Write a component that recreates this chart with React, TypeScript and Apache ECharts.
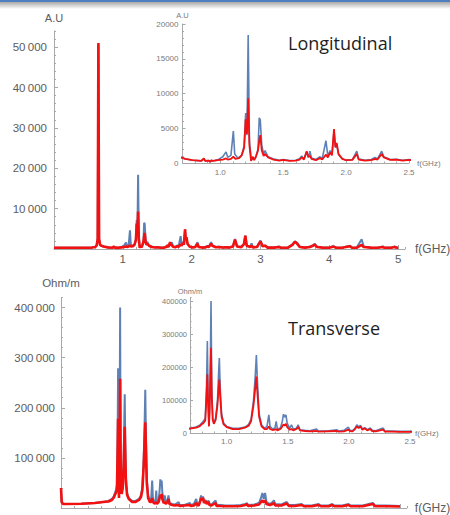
import React, { useEffect, useRef } from "react";
import * as echarts from "echarts";

// ---------- data: [frequency GHz, value] ----------
const lonBlue: [number, number][] = [
  [0, 300], [0.3, 300], [0.55, 350], [0.6, 500], [0.62, 900], [0.635, 2500], [0.645, 50500], [0.655, 2500],
  [0.67, 1000], [0.69, 800], [0.72, 600], [0.78, 400], [0.85, 300], [0.87, 650], [0.88, 300], [0.91, 350],
  [0.92, 150], [0.93, 400], [0.94, 300], [0.98, 450], [1.02, 900], [1.046, 1600], [1.06, 800], [1.085, 1100],
  [1.104, 4600], [1.115, 1300], [1.14, 700], [1.17, 1100], [1.19, 2500], [1.202, 7200], [1.212, 4000],
  [1.222, 18400], [1.232, 3000], [1.245, 800], [1.26, 500], [1.28, 700], [1.30, 2000], [1.31, 6500],
  [1.318, 6200], [1.33, 2500], [1.345, 1300], [1.356, 1800], [1.38, 900], [1.42, 600], [1.47, 400],
  [1.5, 500], [1.55, 350], [1.6, 400], [1.63, 600], [1.647, 1000], [1.665, 600], [1.687, 1600], [1.70, 800],
  [1.713, 1700], [1.725, 700], [1.76, 500], [1.793, 900], [1.81, 600], [1.84, 3200], [1.855, 1000],
  [1.873, 1800], [1.888, 1200], [1.904, 4600], [1.915, 2200], [1.925, 2700], [1.94, 1200], [1.97, 600],
  [2.0, 400], [2.05, 500], [2.085, 1700], [2.10, 600], [2.15, 400], [2.2, 500], [2.23, 800], [2.25, 600],
  [2.283, 1700], [2.30, 900], [2.35, 500], [2.4, 550], [2.45, 400], [2.5, 500], [2.55, 400], [2.6, 700],
  [2.63, 2500], [2.66, 700], [2.72, 500], [2.76, 1200], [2.78, 3300], [2.80, 900], [2.85, 600], [2.87, 1400],
  [2.89, 500], [2.95, 600], [3.0, 2100], [3.03, 800], [3.07, 900], [3.1, 400], [3.2, 400], [3.27, 600],
  [3.3, 300], [3.4, 400], [3.47, 1200], [3.5, 1900], [3.53, 1500], [3.57, 600], [3.65, 400], [3.72, 600],
  [3.76, 900], [3.79, 1300], [3.82, 600], [3.9, 400], [4.0, 350], [4.06, 700], [4.1, 300], [4.2, 400],
  [4.3, 800], [4.33, 300], [4.4, 400], [4.47, 2400], [4.5, 600], [4.6, 400], [4.7, 300], [4.78, 600],
  [4.8, 300], [4.9, 350], [4.95, 600], [4.98, 300], [5.0, 350],
];

const lonRed: [number, number][] = [
  [0, 300], [0.3, 300], [0.55, 350], [0.6, 500], [0.62, 900], [0.635, 2500], [0.645, 51000], [0.655, 2500],
  [0.67, 1000], [0.69, 800], [0.72, 600], [0.78, 400], [0.85, 300], [0.87, 650], [0.88, 300], [0.91, 350],
  [0.92, 150], [0.93, 400], [0.94, 300], [0.98, 400], [1.02, 500], [1.046, 650], [1.06, 500], [1.085, 600],
  [1.104, 900], [1.12, 600], [1.15, 700], [1.17, 1100], [1.19, 2200], [1.202, 6300], [1.212, 4200],
  [1.222, 9300], [1.232, 2500], [1.245, 300], [1.26, 900], [1.27, 400], [1.285, 1000], [1.30, 1800],
  [1.31, 3200], [1.318, 4000], [1.33, 1800], [1.345, 1000], [1.356, 1300], [1.38, 800], [1.42, 500],
  [1.47, 350], [1.5, 450], [1.55, 300], [1.6, 350], [1.63, 500], [1.647, 800], [1.665, 500], [1.687, 1700],
  [1.70, 900], [1.713, 1000], [1.725, 600], [1.76, 400], [1.793, 700], [1.81, 500], [1.84, 1200],
  [1.855, 800], [1.873, 1500], [1.888, 1100], [1.904, 4900], [1.915, 2300], [1.925, 2900], [1.94, 1300],
  [1.97, 600], [2.0, 400], [2.05, 450], [2.085, 1300], [2.10, 500], [2.15, 350], [2.2, 400], [2.23, 600],
  [2.25, 500], [2.283, 1300], [2.30, 800], [2.35, 450], [2.4, 500], [2.45, 350], [2.5, 450], [2.55, 350],
  [2.6, 600], [2.63, 2300], [2.66, 600], [2.72, 450], [2.76, 1200], [2.78, 3300], [2.80, 800], [2.85, 500],
  [2.87, 800], [2.89, 400], [2.95, 500], [3.0, 1900], [3.03, 700], [3.07, 800], [3.1, 350], [3.2, 350],
  [3.27, 500], [3.3, 300], [3.4, 350], [3.47, 1100], [3.5, 1800], [3.53, 1400], [3.57, 500], [3.65, 350],
  [3.72, 500], [3.76, 800], [3.79, 1100], [3.82, 500], [3.9, 350], [4.0, 300], [4.06, 600], [4.1, 300],
  [4.2, 350], [4.3, 700], [4.33, 300], [4.4, 350], [4.47, 1000], [4.5, 500], [4.6, 350], [4.7, 300],
  [4.78, 500], [4.8, 300], [4.9, 300], [4.95, 500], [4.98, 300], [5.0, 300],
];

const traBlue: [number, number][] = [
  [0, 40000], [0.01, 12000], [0.03, 8000], [0.3, 8500], [0.5, 10000], [0.62, 12000], [0.7, 14000],
  [0.75, 18000], [0.78, 24000], [0.80, 32000], [0.81, 36000], [0.825, 45000], [0.835, 140000],
  [0.842, 279000], [0.848, 110000], [0.855, 22000], [0.86, 70000], [0.866, 200000], [0.872, 400000],
  [0.878, 140000], [0.886, 45000], [0.895, 30000], [0.91, 45000], [0.925, 100000], [0.935, 190000],
  [0.94, 227000], [0.947, 140000], [0.958, 60000], [0.975, 30000], [1.0, 20000], [1.05, 14000],
  [1.1, 14000], [1.15, 18000], [1.18, 26000], [1.2, 42000], [1.22, 100000], [1.235, 180000],
  [1.243, 236000], [1.25, 170000], [1.265, 60000], [1.285, 25000], [1.31, 14000], [1.33, 20000],
  [1.345, 55000], [1.355, 20000], [1.375, 12000], [1.395, 15000], [1.405, 35000], [1.415, 12000],
  [1.44, 15000], [1.455, 35000], [1.465, 57000], [1.475, 48000], [1.485, 55000], [1.495, 30000],
  [1.515, 14000], [1.53, 25000], [1.545, 12000], [1.57, 14000], [1.585, 25000], [1.6, 10000],
  [1.64, 8000], [1.68, 7000], [1.735, 12000], [1.75, 6000], [1.82, 6000], [1.9, 10000], [1.915, 6000],
  [1.96, 8000], [1.995, 18000], [2.01, 8000], [2.03, 7000], [2.05, 14000], [2.065, 25000], [2.08, 18000],
  [2.095, 23000], [2.11, 12000], [2.13, 16000], [2.15, 10000], [2.175, 15000], [2.19, 8000], [2.22, 7000],
  [2.28, 15000], [2.295, 6000], [2.35, 6000], [2.42, 5000], [2.5, 5000], [2.55, 5000], [2.65, 6000],
  [2.72, 8000], [2.74, 10000], [2.76, 6000], [2.85, 7000], [2.92, 10000], [2.95, 20000], [2.97, 30000],
  [2.99, 18000], [3.01, 30000], [3.03, 12000], [3.08, 8000], [3.12, 12000], [3.14, 15000], [3.16, 8000],
  [3.25, 7000], [3.33, 12000], [3.36, 6000], [3.45, 6000], [3.55, 8000], [3.58, 5000], [3.7, 5000],
  [3.8, 8000], [3.83, 5000], [3.95, 5000], [4.0, 8000], [4.03, 5000], [4.15, 5000], [4.24, 8000],
  [4.27, 5000], [4.45, 5000], [4.6, 10000], [4.63, 5000], [4.8, 5000], [5.0, 4000],
];

const traRed: [number, number][] = [
  [0, 40000], [0.01, 12000], [0.03, 8000], [0.3, 8500], [0.5, 10000], [0.62, 12000], [0.7, 13000],
  [0.75, 16000], [0.78, 21000], [0.80, 28000], [0.81, 30000], [0.825, 38000], [0.835, 110000],
  [0.842, 178000], [0.848, 90000], [0.855, 20000], [0.86, 60000], [0.866, 160000], [0.872, 258000],
  [0.878, 110000], [0.886, 40000], [0.895, 28000], [0.91, 40000], [0.925, 85000], [0.935, 140000],
  [0.94, 162000], [0.947, 110000], [0.958, 50000], [0.975, 26000], [1.0, 18000], [1.05, 12000],
  [1.1, 12000], [1.15, 16000], [1.18, 22000], [1.2, 36000], [1.22, 85000], [1.235, 140000],
  [1.243, 171000], [1.25, 130000], [1.265, 50000], [1.285, 20000], [1.31, 12000], [1.33, 12000],
  [1.345, 20000], [1.355, 12000], [1.375, 9000], [1.395, 10000], [1.405, 12000], [1.415, 8000],
  [1.44, 12000], [1.455, 20000], [1.465, 26000], [1.475, 22000], [1.485, 28000], [1.495, 18000],
  [1.515, 10000], [1.53, 12000], [1.545, 8000], [1.57, 12000], [1.585, 18000], [1.6, 8000],
  [1.64, 6000], [1.68, 5000], [1.735, 6000], [1.75, 4000], [1.82, 5000], [1.9, 6000], [1.915, 4000],
  [1.96, 5000], [1.995, 10000], [2.01, 6000], [2.03, 5000], [2.05, 12000], [2.065, 20000], [2.08, 15000],
  [2.095, 20000], [2.11, 10000], [2.13, 14000], [2.15, 8000], [2.175, 12000], [2.19, 6000], [2.22, 5000],
  [2.28, 10000], [2.295, 4000], [2.35, 4000], [2.42, 3500], [2.5, 3500], [2.55, 3500], [2.65, 4000],
  [2.72, 6000], [2.74, 8000], [2.76, 4000], [2.85, 5000], [2.92, 7000], [2.95, 12000], [2.97, 15000],
  [2.99, 11000], [3.01, 15000], [3.03, 8000], [3.08, 6000], [3.12, 8000], [3.14, 10000], [3.16, 5000],
  [3.25, 5000], [3.33, 9000], [3.36, 4000], [3.45, 4000], [3.55, 6000], [3.58, 3500], [3.7, 3500],
  [3.8, 6000], [3.83, 3500], [3.95, 3500], [4.0, 6000], [4.03, 3500], [4.15, 3500], [4.24, 6000],
  [4.27, 3500], [4.45, 3500], [4.6, 8000], [4.63, 3500], [4.8, 3500], [5.0, 3000],
];

// ---------- ticks ----------
const mainXTicks = [1, 2, 3, 4, 5];
const insetXTicks = [1.0, 1.5, 2.0, 2.5];
const lonMainYTicks = [10000, 20000, 30000, 40000, 50000];
const lonInsetYTicks = [0, 5000, 10000, 15000, 20000];
const traMainYTicks = [100000, 200000, 300000, 400000];
const traInsetYTicks = [0, 100000, 200000, 300000, 400000];

const BLUE = "#5e81b5";
const RED = "#f21010";
const AXIS = "#a8a8a8";
const LABEL = "#5c5c5c";
const INSET_LABEL = "#7a7a7a";
const FONT = "'Liberation Sans', Arial, sans-serif";

const thin = (v: number) => String(Math.round(v)).replace(/\B(?=(\d{3})+(?!\d))/g, "\u2009");

type AxSpec = {
  grid: number; min: number; max: number; ticks: number[]; minor: number;
  fmt: (v: number) => string; fontSize: number; color: string; margin: number;
  tickLen: number; name: string; nameGap: number; nameSize: number; showLabels?: boolean;
};

function xAxes(s: AxSpec) {
  return [
    {
      type: "value", gridIndex: s.grid, min: s.min, max: s.max, position: "bottom",
      axisLine: { show: true, onZero: false, lineStyle: { color: AXIS, width: 1 } },
      axisTick: { show: true, inside: true, length: s.tickLen, customValues: s.ticks, lineStyle: { color: AXIS } },
      axisLabel: { show: s.showLabels !== false, customValues: s.ticks, formatter: s.fmt, margin: s.margin, fontSize: s.fontSize, color: s.color, fontFamily: FONT },
      splitLine: { show: false },
      name: s.name, nameLocation: "end", nameGap: s.nameGap,
      nameTextStyle: { fontSize: s.nameSize, color: s.color, fontFamily: FONT },
    },
    {
      type: "value", gridIndex: s.grid, min: s.min, max: s.max, interval: s.minor, position: "bottom",
      axisLine: { show: false }, axisTick: { show: true, inside: true, length: s.tickLen / 2, lineStyle: { color: AXIS } },
      axisLabel: { show: false }, splitLine: { show: false },
    },
  ];
}

function yAxes(s: AxSpec) {
  return [
    {
      type: "value", gridIndex: s.grid, min: s.min, max: s.max, position: "left",
      axisLine: { show: true, onZero: false, lineStyle: { color: AXIS, width: 1 } },
      axisTick: { show: true, inside: true, length: s.tickLen, customValues: s.ticks, lineStyle: { color: AXIS } },
      axisLabel: { show: true, customValues: s.ticks, formatter: s.fmt, margin: s.margin, fontSize: s.fontSize, color: s.color, fontFamily: FONT },
      splitLine: { show: false },
      name: s.name, nameLocation: "end", nameGap: s.nameGap,
      nameTextStyle: { fontSize: s.nameSize, color: s.color, fontFamily: FONT, align: "center" },
    },
    {
      type: "value", gridIndex: s.grid, min: s.min, max: s.max, interval: s.minor, position: "left",
      axisLine: { show: false }, axisTick: { show: true, inside: true, length: s.tickLen / 2, lineStyle: { color: AXIS } },
      axisLabel: { show: false }, splitLine: { show: false },
    },
  ];
}

function lines(g: number, blue: [number, number][], red: [number, number][], bw: number, rw: number) {
  const base = { type: "line", xAxisIndex: g * 2, yAxisIndex: g * 2, showSymbol: false, symbol: "none", clip: true, silent: true };
  return [
    { ...base, data: blue, lineStyle: { color: BLUE, width: bw }, z: 2 },
    { ...base, data: red, lineStyle: { color: RED, width: rw }, z: 3 },
  ];
}

export default function App() {
  const ref = useRef<HTMLDivElement>(null);
  useEffect(() => {
    if (!ref.current) return;
    const chart = echarts.init(ref.current, null, { renderer: "svg" });
    const intFmt = (v: number) => String(Math.round(v));
    const dec1 = (v: number) => v.toFixed(1);
    const g = (left: number, top: number, width: number, height: number) => ({
      left, top, width, height, containLabel: false, outerBoundsMode: "none",
    });
    const option = {
      animation: false,
      backgroundColor: "#ffffff",
      grid: [
        g(54, 31, 351, 218),
        g(182.5, 24, 226.5, 139),
        g(61, 297.5, 345.8, 210.5),
        g(190, 297.7, 220, 135.3),
      ],
      xAxis: [
        ...xAxes({ grid: 0, min: 0, max: 5.1, ticks: mainXTicks, minor: 0.2, fmt: intFmt, fontSize: 11.5, color: LABEL, margin: 4, tickLen: 4, name: "f(GHz)", nameGap: 10, nameSize: 12 }),
        ...xAxes({ grid: 1, min: 0.7, max: 2.5, ticks: insetXTicks, minor: 0.1, fmt: dec1, fontSize: 8, color: INSET_LABEL, margin: 5, tickLen: 3, name: "f(GHz)", nameGap: 8, nameSize: 8 }),
        ...xAxes({ grid: 2, min: 0, max: 5.1, ticks: mainXTicks, minor: 0.2, fmt: intFmt, fontSize: 11.5, color: LABEL, margin: 4, tickLen: 4, name: "f(GHz)", nameGap: 8, nameSize: 12, showLabels: false }),
        ...xAxes({ grid: 3, min: 0.7, max: 2.5, ticks: insetXTicks, minor: 0.1, fmt: dec1, fontSize: 8, color: INSET_LABEL, margin: 4, tickLen: 3, name: "f(GHz)", nameGap: 5, nameSize: 8 }),
      ],
      yAxis: [
        ...yAxes({ grid: 0, min: 0, max: 54000, ticks: lonMainYTicks, minor: 2000, fmt: thin, fontSize: 11.5, color: LABEL, margin: 7, tickLen: 4, name: "A.U", nameGap: 8, nameSize: 11 }),
        ...yAxes({ grid: 1, min: 0, max: 20000, ticks: lonInsetYTicks, minor: 1000, fmt: intFmt, fontSize: 8, color: INSET_LABEL, margin: 4, tickLen: 3, name: "A.U", nameGap: 5, nameSize: 7.5 }),
        ...yAxes({ grid: 2, min: 0, max: 420000, ticks: traMainYTicks, minor: 20000, fmt: thin, fontSize: 11.5, color: LABEL, margin: 6, tickLen: 4, name: "Ohm/m", nameGap: 9, nameSize: 11.5 }),
        ...yAxes({ grid: 3, min: 0, max: 410000, ticks: traInsetYTicks, minor: 20000, fmt: intFmt, fontSize: 7.5, color: INSET_LABEL, margin: 3, tickLen: 3, name: "Ohm/m", nameGap: 2, nameSize: 7.5 }),
      ],
      series: [
        ...lines(0, lonBlue, lonRed, 2, 2.6),
        ...lines(1, lonBlue, lonRed, 1.6, 1.8),
        ...lines(2, traBlue, traRed, 2, 2.6),
        ...lines(3, traBlue, traRed, 1.6, 1.8),
      ],
      graphic: [
        { type: "rect", shape: { x: 0, y: 0, width: 450, height: 2 }, style: { fill: "#4f7fc0" }, silent: true },
        {
          type: "rect", shape: { x: 0, y: 2, width: 450, height: 7 }, silent: true,
          style: {
            fill: new echarts.graphic.LinearGradient(0, 0, 0, 1, [
              { offset: 0, color: "#a9a9a9" },
              { offset: 1, color: "#ffffff" },
            ]),
          },
        },
        {
          type: "text", x: 288, y: 43, silent: true,
          style: { text: "Longitudinal", fontSize: 18, fontFamily: "'Open Sans', sans-serif", fill: "#1e1e1e", align: "left", verticalAlign: "middle" },
        },
        {
          type: "text", x: 288, y: 328, silent: true,
          style: { text: "Transverse", fontSize: 18, fontFamily: "'Open Sans', sans-serif", fill: "#1e1e1e", align: "left", verticalAlign: "middle" },
        },
      ],
    };
    chart.setOption(option as any);
    return () => chart.dispose();
  }, []);
  return (
    <div
      ref={ref}
      style={{ position: "absolute", left: 0, top: 0, width: 450, height: 515, background: "#fff" }}
    />
  );
}
